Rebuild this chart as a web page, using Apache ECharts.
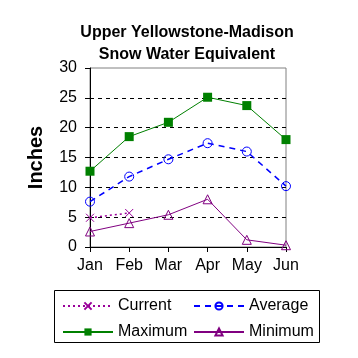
<!DOCTYPE html>
<html><head><meta charset="utf-8">
<script src="https://cdn.jsdelivr.net/npm/echarts@6/dist/echarts.min.js"></script>
<style>html,body{margin:0;padding:0;background:#fff}#c{width:358px;height:358px}</style>
</head><body><div id="c"></div>
<script>
const months = ['Jan','Feb','Mar','Apr','May','Jun'];
const current = [4.9, 5.7];
const average = [7.6, 11.8, 14.7, 17.4, 16.0, 10.2];
const maximum = [12.7, 18.5, 20.9, 25.1, 23.7, 18.0];
const minimum = [2.6, 4.0, 5.4, 8.0, 1.2, 0.3];
const yTicks = [0, 5, 10, 15, 20, 25, 30];

const font = 'Arial, "Liberation Sans", sans-serif';
const chart = echarts.init(document.getElementById('c'));
const legendBase = {orient:'horizontal', itemWidth:50, itemHeight:9, itemGap:10,
  textStyle:{fontFamily:font, fontSize:16, color:'#000'}, padding:0};
const clear = 'rgba(0,0,0,0)';
chart.setOption({
  animation:false,
  backgroundColor:'#fff',
  title:{text:'Upper Yellowstone-Madison\nSnow Water Equivalent', left:182, textAlign:'center', top:17,
    textStyle:{fontFamily:font, fontSize:16, fontWeight:'bold', color:'#000', lineHeight:22}},
  grid:{left:90, right:72, top:68, bottom:111, show:true, borderColor:'#808080', borderWidth:1},
  xAxis:{type:'category', data:months, boundaryGap:false,
    axisLine:{lineStyle:{color:'#000', width:1}},
    axisTick:{show:true, interval:0, inside:false, length:5, lineStyle:{color:'#000'}},
    axisLabel:{interval:0, fontFamily:font, fontSize:16, color:'#000', margin:11}},
  yAxis:{type:'value', min:yTicks[0], max:yTicks[yTicks.length-1], interval:5,
    name:'Inches', nameLocation:'middle', nameGap:44, nameRotate:90,
    nameTextStyle:{fontFamily:font, fontSize:20, fontWeight:'bold', color:'#000'},
    axisLine:{show:true, lineStyle:{color:'#000', width:1}},
    axisTick:{show:true, inside:false, length:5, lineStyle:{color:'#000'}},
    axisLabel:{fontFamily:font, fontSize:16, color:'#000', margin:13},
    splitLine:{show:true, showMaxLine:false, showMinLine:false, lineStyle:{color:'#000', type:[4,4], width:1}}},
  legend:[
    Object.assign({}, legendBase, {left:62, top:298, data:['Current']}),
    Object.assign({}, legendBase, {left:193, top:298, data:['Average']}),
    Object.assign({}, legendBase, {left:62, top:324, data:['Maximum']}),
    Object.assign({}, legendBase, {left:193, top:324, data:['Minimum']})
  ],
  graphic:[{type:'rect', shape:{x:54.5, y:290.5, width:265, height:52},
    style:{fill:'none', stroke:'#000', lineWidth:1}, z:-1}],
  series:[
    {name:'Current', type:'line', data:current, symbol:'path://M0,0L10,10M10,0L0,10', symbolSize:8,
      lineStyle:{color:'#990099', width:1.5, type:[2,3]},
      itemStyle:{color:clear, borderColor:'#990099', borderWidth:1}},
    {name:'Average', type:'line', data:average, symbol:'circle', symbolSize:9,
      lineStyle:{color:'#0000ff', width:1.5, type:[6,5]},
      itemStyle:{color:clear, borderColor:'#0000ff', borderWidth:1}},
    {name:'Maximum', type:'line', data:maximum, symbol:'rect', symbolSize:9,
      lineStyle:{color:'#008000', width:1},
      itemStyle:{color:'#008000'}},
    {name:'Minimum', type:'line', data:minimum, symbol:'triangle', symbolSize:9,
      lineStyle:{color:'#800080', width:1},
      itemStyle:{color:clear, borderColor:'#800080', borderWidth:1}}
  ]
});
</script></body></html>
